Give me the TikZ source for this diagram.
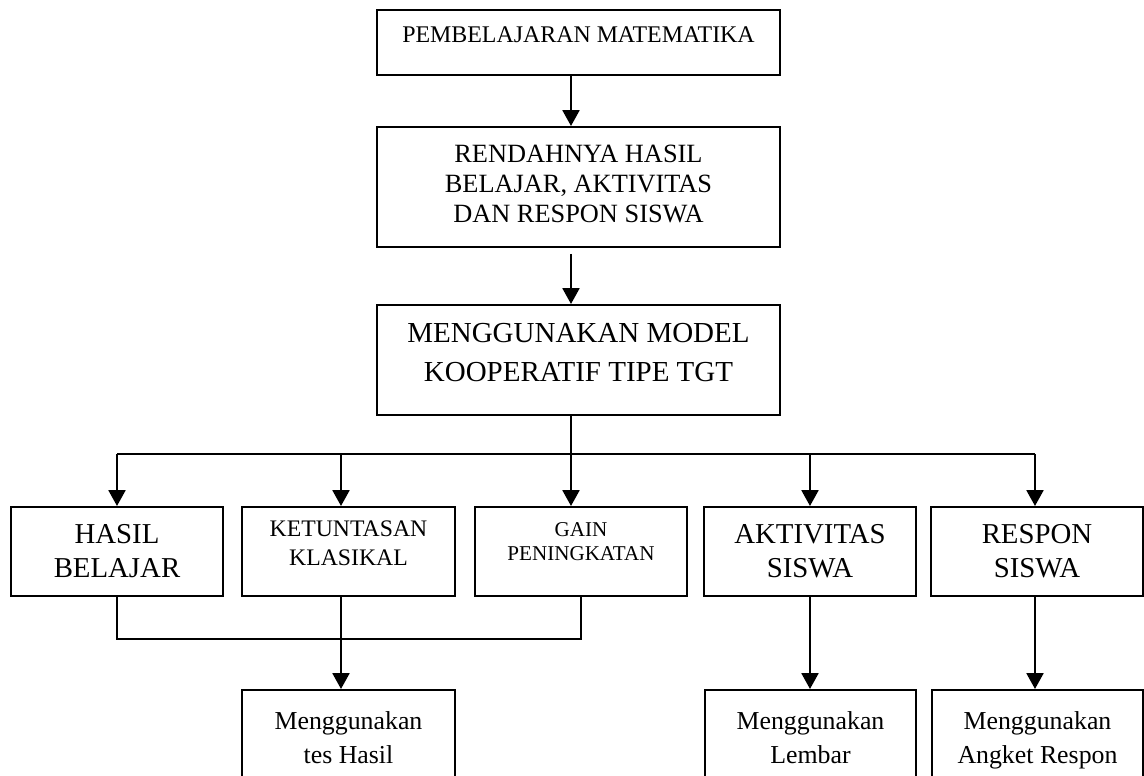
\documentclass[tikz,border=0pt]{standalone}
\usepackage{fontspec}
\setmainfont{Liberation Serif}
\usetikzlibrary{positioning,calc,arrows.meta}

\newcommand{\ruangbawah}[1]{\rule[-#1]{0pt}{#1}}

\tikzset{
  kotak/.style={draw, line width=1.1pt, align=center, inner sep=0pt},
  garis/.style={line width=1.1pt},
  tebal/.style={line width=1.5pt},
  panah/.style={line width=1.5pt, -{Triangle[width=9.5pt,length=9pt]}},
}

\begin{document}
\begin{tikzpicture}[x=0.02cm, y=-0.02cm]
    \useasboundingbox (0,0) rectangle (1144,776);
    \clip (0,0) rectangle (1144,776);

    % alur utama
    \node[kotak, minimum width=8.06cm, minimum height=1.3cm, font=\fontsize{13.6}{16}\selectfont] (pembelajaran) at (578.5,42.5) {PEMBELAJARAN MATEMATIKA\ruangbawah{0.3cm}};
    \node[kotak, minimum width=8.06cm, minimum height=2.4cm, font=\fontsize{15}{17}\selectfont] (rendah) at (578.5,187) {RENDAHNYA HASIL\\BELAJAR, AKTIVITAS\\DAN RESPON SISWA\ruangbawah{0.12cm}};
    \node[kotak, minimum width=8.06cm, minimum height=2.2cm, font=\fontsize{16.5}{22}\selectfont] (model) at (578.5,360) {MENGGUNAKAN MODEL\\KOOPERATIF TIPE TGT\ruangbawah{0.3cm}};

    % baris tengah
    \node[kotak, minimum width=4.24cm, minimum height=1.78cm, font=\fontsize{16.4}{19.3}\selectfont] (hasil) at (117,551.5) {HASIL\\BELAJAR};
    \node[kotak, minimum width=4.26cm, minimum height=1.78cm, font=\fontsize{13.5}{16.4}\selectfont] (tuntas) at (348.5,551.5) {KETUNTASAN\\KLASIKAL\ruangbawah{0.32cm}};
    \node[kotak, minimum width=4.24cm, minimum height=1.78cm, font=\fontsize{12}{14}\selectfont] (gain) at (581,551.5) {GAIN\\PENINGKATAN\ruangbawah{0.4cm}};
    \node[kotak, minimum width=4.24cm, minimum height=1.78cm, font=\fontsize{16.4}{19.3}\selectfont] (aktivitas) at (810,551.5) {AKTIVITAS\\SISWA};
    \node[kotak, minimum width=4.24cm, minimum height=1.78cm, font=\fontsize{16.4}{19.3}\selectfont] (respon) at (1037,551.5) {RESPON\\SISWA};

    % baris bawah
    \node[kotak, minimum width=4.26cm, minimum height=2.06cm, font=\fontsize{14.7}{19.8}\selectfont] (tes) at (348.5,741.5) {Menggunakan\\tes Hasil\ruangbawah{0.16cm}};
    \node[kotak, minimum width=4.22cm, minimum height=2.06cm, font=\fontsize{14.7}{19.8}\selectfont] (lembar) at (810.5,741.5) {Menggunakan\\Lembar\ruangbawah{0.16cm}};
    \node[kotak, minimum width=4.22cm, minimum height=2.06cm, font=\fontsize{14.7}{19.8}\selectfont] (angket) at (1037.5,741.5) {Menggunakan\\Angket Respon\ruangbawah{0.16cm}};

    % titik cabang
    \coordinate (sumbu) at (571,454);
    \coordinate (b1) at (117,454);
    \coordinate (b2) at (341,454);
    \coordinate (b4) at (810,454);
    \coordinate (b5) at (1035,454);
    \coordinate (gabung) at (341,639);

    \draw[panah] (pembelajaran.south -| sumbu) -- (rendah.north -| sumbu);
    \draw[panah, shorten <=0.12cm] (rendah.south -| sumbu) -- (model.north -| sumbu);
    \draw[tebal] (model.south -| sumbu) -- (sumbu);
    \draw[garis] (b1) -- (b5);
    \foreach \titik/\nama in {b1/hasil, b2/tuntas, sumbu/gain, b4/aktivitas, b5/respon}
        \draw[panah] (\titik) -- (\titik |- \nama.north);

    \draw[garis] (hasil.south) |- (gain.south |- gabung) -- (gain.south);
    \draw[panah] (b2 |- tuntas.south) -- (b2 |- tes.north);
    \draw[panah] (b4 |- aktivitas.south) -- (b4 |- lembar.north);
    \draw[panah] (b5 |- respon.south) -- (b5 |- angket.north);
\end{tikzpicture}
\end{document}
